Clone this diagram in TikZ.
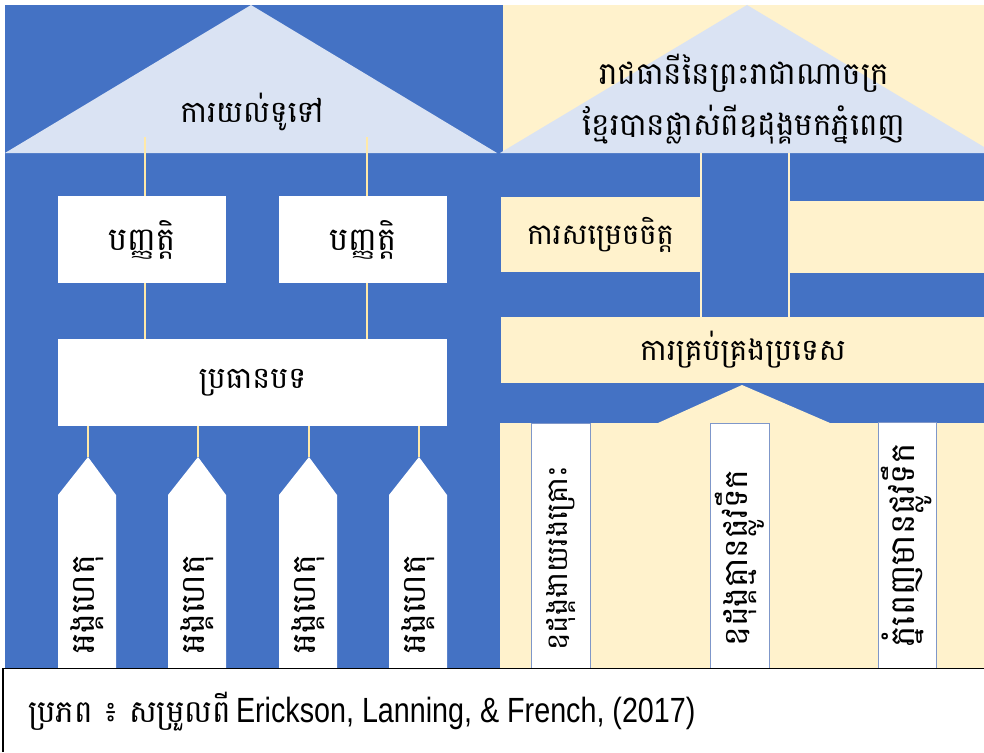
\documentclass[tikz,border=0pt]{standalone}
\usepackage{fontspec}
\newfontfamily\kh[Script=Khmer]{Battambang}
\newfontfamily\narrowsans[FakeStretch=0.82]{Liberation Sans}
\definecolor{mblue}{HTML}{4472C4}
\definecolor{ltblue}{HTML}{DAE3F3}
\definecolor{cream}{HTML}{FFF2CC}
\definecolor{connc}{HTML}{FFE9A8}
\definecolor{colborder}{HTML}{7F97C9}
\newcommand\khsize[1]{\kh\fontsize{#1}{1.25\dimexpr#1pt\relax}\selectfont}
\tikzset{
  khtext/.style={font=\khsize{30}, text=black},
  wbox/.style={fill=white, draw=none, inner sep=0pt, khtext},
  cbox/.style={fill=cream, draw=none, inner sep=0pt, khtext},
  conn/.style={draw=connc, line width=2pt},
  beam/.style={draw=cream, line width=2pt},
  factcol/.style={fill=white, draw=colborder, line width=0.8pt},
}
\begin{document}
\begin{tikzpicture}[x=1pt,y=-1pt]
\useasboundingbox (0,0) rectangle (984,752);
\fill[white] (0,0) rectangle (984,752);

% ---------- backgrounds ----------
\fill[mblue] (5,5) rectangle (984,668);
% left roof
\fill[ltblue] (5,153) -- (251,5) -- (497,153) -- cycle;
% right roof
\fill[cream] (503,5) rectangle (984,153);
\fill[ltblue] (500,153) -- (747,5) -- (994,153) -- cycle;

% ---------- left structure ----------
\node[khtext, font=\khsize{30}] (gen) at (252,112) {ការយល់ទូទៅ};
\coordinate (g1) at (145,137);
\coordinate (g2) at (367,137);

\node[wbox, font=\khsize{32}, minimum width=168pt, minimum height=87pt] (c1) at (142,239.5) {បញ្ញត្តិ};
\node[wbox, font=\khsize{32}, minimum width=168pt, minimum height=87pt] (c2) at (363,239.5) {បញ្ញត្តិ};
\node[wbox, font=\khsize{30}, minimum width=389pt, minimum height=87pt] (topic) at (252.5,382.5) {ប្រធានបទ};

\draw[conn] (g1) -- (g1 |- c1.north);
\draw[conn] (g2) -- (g2 |- c2.north);
\draw[conn] (g1 |- c1.south) -- (g1 |- topic.north);
\draw[conn] (g2 |- c2.south) -- (g2 |- topic.north);

\foreach \i/\cx in {1/87, 2/197, 3/308, 4/418} {
  \fill[white] (\cx-29,668) -- (\cx-29,495) -- (\cx+1,457) -- (\cx+29,495) -- (\cx+29,668) -- cycle;
  \coordinate (f\i top) at (\cx+1,457);
  \node[khtext, font=\khsize{33}, rotate=90] (f\i) at (\cx,604) {អង្គហេតុ};
  \draw[conn] (f\i top |- topic.south) -- (f\i top);
}

% ---------- right structure ----------
\node[khtext, font=\kh\fontsize{31}{51}\selectfont, align=center] (gen2) at (744,99) {រាជធានីនៃព្រះរាជាណាចក្រ\\ខ្មែរបានផ្លាស់ពីឧដុង្គមកភ្នំពេញ};

\node[cbox, font=\khsize{29}, minimum width=199pt, minimum height=75pt] (dec) at (600.5,234.5) {ការសម្រេចចិត្ត};
\node[cbox, minimum width=200pt, minimum height=72pt] (emp) at (889,237) {};
\node[cbox, font=\khsize{30}, minimum width=484pt, minimum height=66pt] (gov) at (743,350) {ការគ្រប់គ្រងប្រទេស};

\coordinate (b1) at (701,153);
\coordinate (b2) at (789,153);
\draw[beam] (b1) -- (b1 |- gov.north);
\draw[beam] (b2) -- (b2 |- gov.north);

% base
\fill[cream] (658,423) -- (742,385) -- (830,423) -- cycle;
\fill[cream] (500,423) rectangle (984,668);

\draw[factcol] (531,423) rectangle (590,668);
\draw[factcol] (710,423) rectangle (769,668);
\draw[factcol] (878,422) rectangle (936,668);
\node[khtext, font=\khsize{29}, rotate=90] (r1) at (561,558) {ឧដុង្គងាយរងគ្រោះ};
\node[khtext, font=\khsize{33}, rotate=90] (r2) at (740,558) {ឧដុង្គគ្មានផ្លូវទឹក};
\node[khtext, font=\khsize{34}, rotate=90] (r3) at (907,545) {ភ្នំពេញមានផ្លូវទឹក};

% ---------- footer ----------
\fill[white] (0,669) rectangle (984,752);
\draw[black, line width=1.5pt] (3,752) -- (3,668.5) -- (984,668.5);
\node[anchor=base west, inner sep=0pt] (src) at (28,722)
  {\kh\fontsize{31}{34}\selectfont ប្រភព ៖ សម្រួលពី\,\narrowsans\fontsize{35}{38}\selectfont Erickson, Lanning, \& French, (2017)};
\end{tikzpicture}
\end{document}
